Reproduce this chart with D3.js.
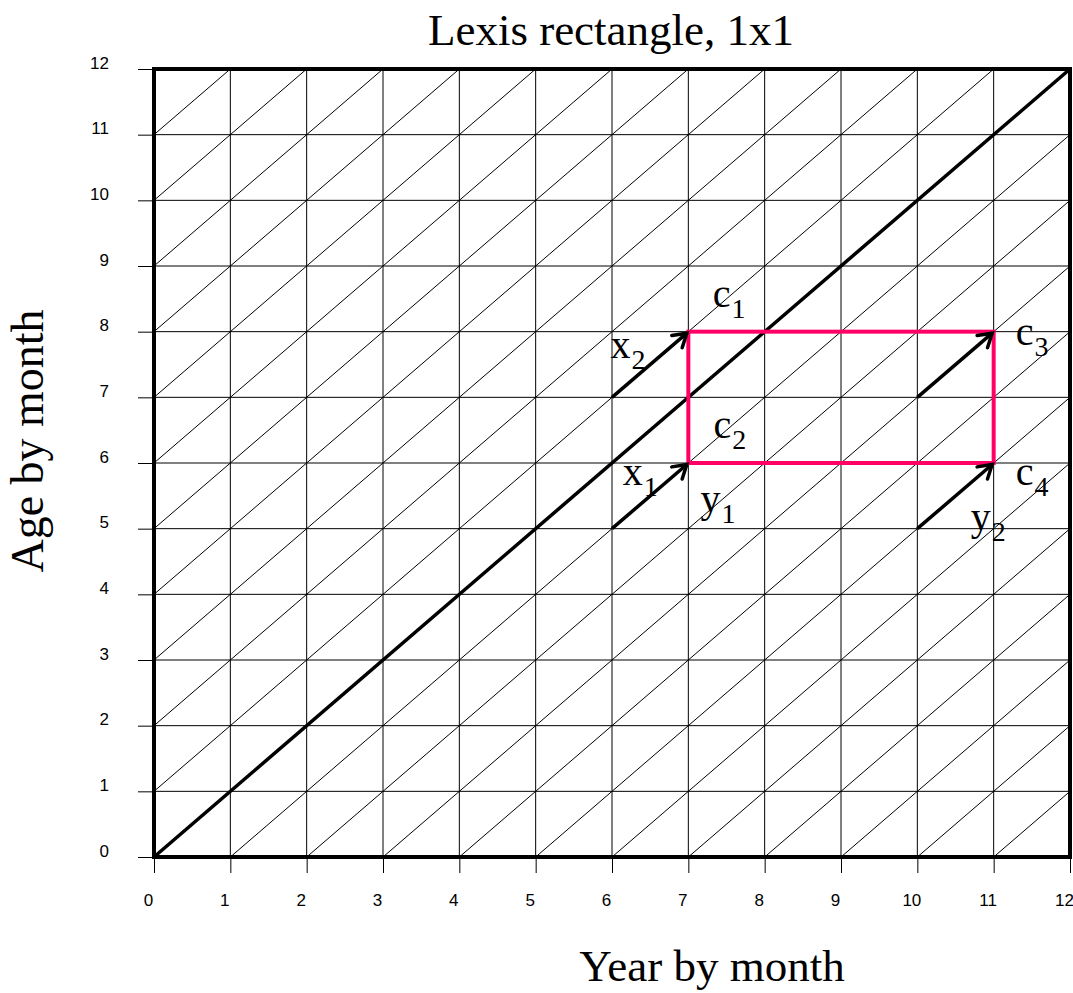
<!DOCTYPE html>
<html>
<head>
<meta charset="utf-8">
<script src="https://cdn.jsdelivr.net/npm/d3@7"></script>
<style>
  body { margin: 0; background: #fff; }
  svg { display: block; }
</style>
</head>
<body>
<div class="svg-container"></div>
<script>
// Lexis diagram data
const years = d3.range(0, 13);          // tick values, x axis
const ages = d3.range(0, 13);           // tick values, y axis
const cohortOffsets = d3.range(-11, 12); // year - age = k for thin diagonals
const mainDiagonal = [[0, 0], [12, 12]];
const rectCorners = [[7, 6], [11, 8]];   // pink Lexis rectangle
const arrows = [
  [6, 5, 7, 6],
  [6, 7, 7, 8],
  [10, 7, 11, 8],
  [10, 5, 11, 6]
];
// label, subscript, position (year, age) of baseline start
const labels = [
  ["c", "1", 7.32, 8.38],
  ["x", "2", 5.98, 7.60],
  ["c", "2", 7.33, 6.38],
  ["x", "1", 6.14, 5.66],
  ["y", "1", 7.16, 5.25],
  ["c", "3", 11.29, 7.80],
  ["c", "4", 11.29, 5.66],
  ["y", "2", 10.70, 4.98]
];

const width = 1073, height = 993;
const svg = d3.select(".svg-container").append("svg")
  .attr("width", width).attr("height", height);

const x = d3.scaleLinear().domain([0, 12]).range([154, 1070]);
const y = d3.scaleLinear().domain([0, 12]).range([857, 69]);

const serif = "'Liberation Serif', 'Times New Roman', serif";
const sans = "'Liberation Sans', Arial, sans-serif";

// grid
const grid = svg.append("g").attr("stroke", "#000").attr("stroke-width", 1);
grid.selectAll(".v").data(years).enter().append("line")
  .attr("x1", d => x(d)).attr("x2", d => x(d))
  .attr("y1", y(0)).attr("y2", y(12));
grid.selectAll(".h").data(ages).enter().append("line")
  .attr("y1", d => y(d)).attr("y2", d => y(d))
  .attr("x1", x(0)).attr("x2", x(12));
grid.selectAll(".d").data(cohortOffsets.filter(k => k !== 0)).enter().append("line")
  .attr("x1", k => x(Math.max(0, k))).attr("y1", k => y(Math.max(0, -k)))
  .attr("x2", k => x(Math.min(12, 12 + k))).attr("y2", k => y(Math.min(12, 12 - k)));

// axes
const xAxis = svg.append("g").attr("transform", "translate(0," + y(0) + ")")
  .call(d3.axisBottom(x).tickValues(years).tickSize(16).tickSizeOuter(0).tickFormat(d3.format("d")));
xAxis.select(".domain").remove();
xAxis.selectAll("line").attr("stroke", "#000");
xAxis.selectAll("text").attr("font-family", sans).attr("font-size", 17)
  .attr("fill", "#000").attr("x", -6).attr("y", 49).attr("dy", null);

const yAxis = svg.append("g").attr("transform", "translate(" + x(0) + ",0)")
  .call(d3.axisLeft(y).tickValues(ages).tickSize(16).tickSizeOuter(0).tickFormat(d3.format("d")));
yAxis.select(".domain").remove();
yAxis.selectAll("line").attr("stroke", "#000");
yAxis.selectAll("text").attr("font-family", sans).attr("font-size", 17)
  .attr("fill", "#000").attr("x", -45).attr("dy", "-0.05em");

// main diagonal
svg.append("path")
  .attr("d", d3.line().x(d => x(d[0])).y(d => y(d[1]))(mainDiagonal))
  .attr("stroke", "#000").attr("stroke-width", 3.5).attr("fill", "none");

// frame
svg.append("rect")
  .attr("x", x(0)).attr("y", y(12))
  .attr("width", x(12) - x(0)).attr("height", y(0) - y(12))
  .attr("fill", "none").attr("stroke", "#000").attr("stroke-width", 4);

// pink rectangle
svg.append("rect")
  .attr("x", x(rectCorners[0][0])).attr("y", y(rectCorners[1][1]))
  .attr("width", x(rectCorners[1][0]) - x(rectCorners[0][0]))
  .attr("height", y(rectCorners[0][1]) - y(rectCorners[1][1]))
  .attr("fill", "none").attr("stroke", "#ff0066").attr("stroke-width", 4);

// arrows
svg.append("defs").append("marker")
  .attr("id", "head").attr("markerUnits", "userSpaceOnUse")
  .attr("viewBox", "-16 -10 20 20").attr("markerWidth", 20).attr("markerHeight", 20)
  .attr("refX", 0).attr("refY", 0).attr("orient", "auto")
  .append("path").attr("d", "M-13,-8 L0,0 L-13,8")
  .attr("fill", "none").attr("stroke", "#000").attr("stroke-width", 3.5)
  .attr("stroke-linecap", "round").attr("stroke-linejoin", "miter");

svg.selectAll(".arrow").data(arrows).enter().append("line")
  .attr("x1", d => x(d[0])).attr("y1", d => y(d[1]))
  .attr("x2", d => x(d[2]) - 1.5).attr("y2", d => y(d[3]) + 1.5)
  .attr("stroke", "#000").attr("stroke-width", 3.5)
  .attr("marker-end", "url(#head)");

// labels with subscripts
const lab = svg.selectAll(".lab").data(labels).enter().append("text")
  .attr("x", d => x(d[2])).attr("y", d => y(d[3]))
  .attr("font-family", serif).attr("font-size", 40).attr("fill", "#000");
lab.append("tspan").text(d => d[0]);
lab.append("tspan").attr("font-size", 28).attr("dy", 11).attr("dx", 1).text(d => d[1]);

// titles
svg.append("text").attr("x", 611).attr("y", 45).attr("text-anchor", "middle")
  .attr("font-family", serif).attr("font-size", 45).text("Lexis rectangle, 1x1");
svg.append("text").attr("x", 712).attr("y", 981).attr("text-anchor", "middle")
  .attr("font-family", serif).attr("font-size", 45).text("Year by month");
svg.append("text").attr("transform", "translate(43,441) rotate(-90)")
  .attr("text-anchor", "middle")
  .attr("font-family", serif).attr("font-size", 46).text("Age by month");
</script>
</body>
</html>
